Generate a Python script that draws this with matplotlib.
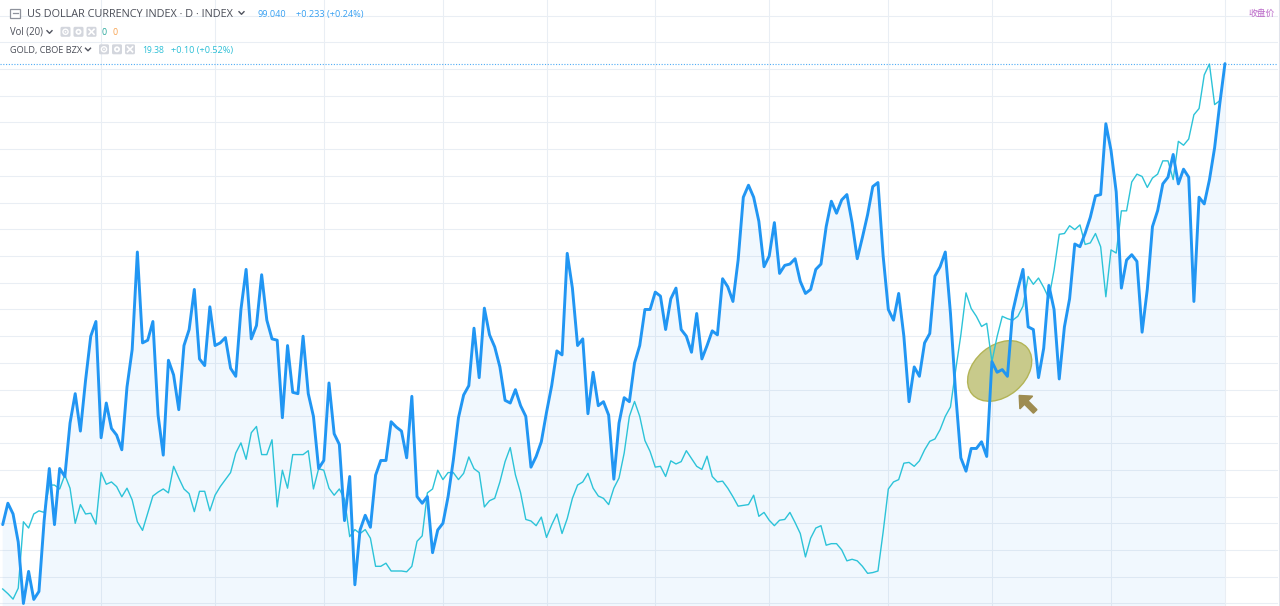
import numpy as np
import matplotlib
matplotlib.use("Agg")
import matplotlib.pyplot as plt
from matplotlib.patches import Ellipse, FancyArrow, Rectangle, FancyBboxPatch, Circle
from matplotlib.lines import Line2D
from matplotlib.transforms import IdentityTransform

W, H, DPI = 1280, 606, 100

# ---------------- data (daily closes) ----------------
dxy = [95.59, 95.75, 95.67, 95.46, 95.00, 95.24, 95.03, 95.09, 95.62, 96.01,
       95.59, 96.01, 95.95, 96.35, 96.57, 96.29, 96.67, 97.00, 97.11, 96.24,
       96.50, 96.31, 96.26, 96.15, 96.62, 96.90, 97.63, 96.95, 96.97, 97.11,
       96.41, 96.11, 96.82, 96.71, 96.45, 96.93, 97.05, 97.35, 96.83, 96.78,
       97.22, 96.93, 96.95, 96.99, 96.76, 96.70, 97.20, 97.50, 96.98, 97.08,
       97.46, 97.12, 96.98, 96.97, 96.39, 96.93, 96.58, 96.57, 97.00, 96.57,
       96.40, 96.01, 96.07, 96.65, 96.27, 96.19, 95.62, 95.95, 95.14, 95.55,
       95.66, 95.57, 95.96, 96.07, 96.07, 96.36, 96.32, 96.29, 96.09, 96.55,
       95.80, 95.75, 95.80, 95.38, 95.55, 95.60, 95.80, 96.07, 96.39, 96.56,
       96.63, 97.06, 96.69, 97.21, 97.01, 96.92, 96.77, 96.52, 96.50, 96.60,
       96.48, 96.40, 96.02, 96.10, 96.21, 96.43, 96.63, 96.89, 96.86, 97.62,
       97.36, 96.93, 96.98, 96.42, 96.73, 96.48, 96.51, 96.41, 95.93, 96.35,
       96.54, 96.51, 96.80, 96.93, 97.20, 97.20, 97.33, 97.30, 97.05, 97.28,
       97.36, 97.05, 97.00, 96.88, 97.17, 96.83, 96.93, 97.04, 97.01, 97.43,
       97.37, 97.26, 97.57, 98.04, 98.13, 98.04, 97.86, 97.52, 97.60, 97.85,
       97.47, 97.53, 97.54, 97.58, 97.41, 97.32, 97.35, 97.50, 97.54, 97.82,
       98.01, 97.92, 98.02, 98.06, 97.85, 97.58, 97.74, 97.91, 98.12, 98.15,
       97.60, 97.20, 97.12, 97.32, 97.00, 96.51, 96.77, 96.70, 96.95, 97.02,
       97.45, 97.52, 97.63, 97.17, 96.57, 96.09, 95.99, 96.16, 96.16, 96.21,
       96.10, 96.81, 96.73, 96.75, 96.70, 97.18, 97.35, 97.50, 97.07, 97.05,
       96.69, 96.91, 97.38, 97.20, 96.68, 97.07, 97.28, 97.69, 97.67, 97.77,
       97.89, 98.05, 98.06, 98.59, 98.39, 98.08, 97.36, 97.57, 97.61, 97.56,
       97.03, 97.35, 97.82, 97.94, 98.14, 98.19, 98.36, 98.14, 98.25, 98.19,
       97.26, 98.04, 97.99, 98.17, 98.41, 98.74, 99.04]

gold = [13.13, 13.07, 13.00, 13.14, 13.99, 13.91, 14.09, 14.13, 14.11, 14.46,
        14.46, 14.41, 14.59, 14.42, 13.97, 14.21, 14.09, 14.10, 13.96, 14.62,
        14.47, 14.50, 14.44, 14.31, 14.42, 14.27, 13.99, 13.88, 14.10, 14.32,
        14.37, 14.41, 14.36, 14.70, 14.55, 14.41, 14.35, 14.12, 14.38, 14.38,
        14.13, 14.33, 14.44, 14.53, 14.62, 14.87, 15.00, 14.79, 15.13, 15.21,
        14.85, 14.85, 15.04, 14.18, 14.65, 14.42, 14.85, 14.85, 14.85, 14.90,
        14.41, 14.67, 14.65, 14.42, 14.33, 14.41, 14.28, 13.80, 13.89, 13.84,
        13.89, 13.78, 13.42, 13.42, 13.46, 13.36, 13.36, 13.36, 13.35, 13.42,
        13.74, 13.81, 14.36, 14.41, 14.65, 14.53, 14.62, 14.62, 14.53, 14.61,
        14.82, 14.67, 14.62, 14.18, 14.26, 14.29, 14.50, 14.76, 14.94, 14.59,
        14.36, 14.02, 14.00, 13.94, 14.05, 13.79, 13.95, 14.09, 13.84, 14.03,
        14.29, 14.46, 14.50, 14.61, 14.42, 14.32, 14.29, 14.21, 14.42, 14.55,
        14.87, 15.34, 15.53, 15.34, 15.03, 14.89, 14.69, 14.70, 14.57, 14.77,
        14.73, 14.76, 14.90, 14.80, 14.70, 14.66, 14.83, 14.57, 14.50, 14.51,
        14.42, 14.31, 14.19, 14.20, 14.21, 14.33, 14.06, 14.11, 14.01, 13.94,
        14.01, 14.02, 14.11, 13.98, 13.84, 13.54, 13.78, 13.91, 13.94, 13.69,
        13.71, 13.71, 13.63, 13.49, 13.51, 13.49, 13.42, 13.33, 13.34, 13.36,
        13.86, 14.41, 14.50, 14.53, 14.74, 14.75, 14.70, 14.77, 14.91, 15.02,
        15.05, 15.17, 15.34, 15.46, 15.93, 16.38, 16.92, 16.72, 16.62, 16.49,
        16.53, 16.04, 16.36, 16.62, 16.59, 16.57, 16.62, 16.75, 17.13, 17.03,
        17.11, 16.99, 16.85, 17.21, 17.67, 17.68, 17.78, 17.73, 17.79, 17.54,
        17.56, 17.68, 17.51, 16.87, 17.47, 17.43, 17.97, 17.97, 18.34, 18.44,
        18.41, 18.27, 18.39, 18.44, 18.61, 18.61, 18.37, 18.86, 18.81, 18.89,
        19.20, 19.28, 19.71, 19.85, 19.33, 19.38]

# first trading day of each month (index into the series)
month_starts = [19, 41, 62, 85, 105, 126, 148, 171, 191, 214, 236]
dxy_grid = [95.0 + 0.2 * k for k in range(23)]
dxy_last = 99.04

title = "US DOLLAR CURRENCY INDEX · D · INDEX"
dxy_last_txt, dxy_chg_txt = "99.040", "+0.233 (+0.24%)"
vol_txt = "Vol (20)"
gold_txt = "GOLD, CBOE BZX"
gold_last_txt, gold_chg_txt = "19.38", "+0.10 (+0.52%)"
corner_txt = "收盘价"

# ---------------- figure ----------------
fig = plt.figure(figsize=(W / DPI, H / DPI), dpi=DPI, facecolor="white")
rect = [0, 0, 1278 / W, 1]
axb = fig.add_axes(rect)                       # grid + area fill (DXY scale)
axg = axb.twinx()                              # GOLD overlay scale
axt = fig.add_axes(rect, sharex=axb, sharey=axb)  # DXY line on top
axb.set_zorder(1); axg.set_zorder(2); axt.set_zorder(3)
for a in (axb, axg, axt):
    a.set_axis_off()

axb.set_xlim(-0.521, 246.24)
axb.set_ylim(94.981, 99.516)
axg.set_ylim(12.912, 20.669)

GRID = "#E9EEF4"
for v in dxy_grid:
    axb.axhline(v, color=GRID, lw=0.75, zorder=0)
for m in month_starts:
    axb.axvline(m, color=GRID, lw=0.75, zorder=0)

x = np.arange(len(dxy))
xg = np.arange(len(gold))
axb.fill_between(x, dxy, 90, color="#2196F3", alpha=0.06, lw=0, zorder=1)

# annotation ellipse (below the lines)
cx, cy = axb.transData.transform((192.5, 96.74))
ell = Ellipse((cx, cy), 72, 51, angle=40, transform=IdentityTransform(),
              facecolor="#C8CA8B", edgecolor="#B3B456", lw=1.0, zorder=5, clip_on=False)
axb.add_artist(ell)

axg.plot(xg, gold, color="#2CC3D8", lw=1.0, solid_joinstyle="round")
axt.plot(x, dxy, color="#2196F3", lw=2.1, solid_joinstyle="round", solid_capstyle="round")
axt.axhline(dxy_last, color="#2196F3", lw=0.8, ls=(0, (1, 1.5)), alpha=0.8)

# arrow near the ellipse
tx, ty = cx + 19.5, cy - 24.5
arr = FancyArrow(tx + 16, ty - 16, -16, 16, width=5, head_width=18, head_length=10,
                 length_includes_head=True, transform=IdentityTransform(),
                 color="#9E8C50", zorder=6)
axt.add_artist(arr)

# right border of the pane
fig.lines.append(Line2D([1278.5, 1278.5], [0, H], transform=IdentityTransform(),
                        color="#E0E3EB", lw=0.75))

# ---------------- header ----------------
renderer = fig.canvas.get_renderer()
FAM = ["Open Sans", "DejaVu Sans"]


def put(s, x0, x1, base_y, color, family=FAM, size=8.0):
    t = fig.text(x0 / W, 1 - base_y / H, s, color=color, fontsize=size,
                 family=family, va="baseline", ha="left", zorder=10)
    if x1 is not None:
        bb = t.get_window_extent(renderer)
        t.set_fontsize(size * (x1 - x0) / bb.width)
    return t


def chevron(xc, yc, color="#50535E"):
    fig.lines.append(Line2D([xc - 2.5, xc, xc + 2.5],
                            [H - (yc - 1.3), H - (yc + 1.3), H - (yc - 1.3)],
                            transform=IdentityTransform(), color=color, lw=1.0, zorder=12))


def icons(x0, yc):
    for k in range(3):
        bx = x0 + k * 13
        p = FancyBboxPatch((bx, H - yc - 5), 10, 10, boxstyle="round,pad=0,rounding_size=1.5",
                           transform=IdentityTransform(), facecolor="#D3D6DD",
                           edgecolor="none", zorder=10)
        fig.patches.append(p)
        cxx, cyy = bx + 5, H - yc
        if k == 0:
            fig.patches.append(Circle((cxx, cyy), 2.6, transform=IdentityTransform(),
                                      facecolor="none", edgecolor="white", lw=1.0, zorder=11))
            fig.patches.append(Circle((cxx, cyy), 0.9, transform=IdentityTransform(),
                                      facecolor="white", edgecolor="none", zorder=11))
        elif k == 1:
            fig.patches.append(Circle((cxx, cyy), 3.0, transform=IdentityTransform(),
                                      facecolor="white", edgecolor="none", zorder=11))
            fig.patches.append(Circle((cxx, cyy), 1.2, transform=IdentityTransform(),
                                      facecolor="#D3D6DD", edgecolor="none", zorder=12))
        else:
            for sgn in (1, -1):
                fig.lines.append(Line2D([cxx - 2.5, cxx + 2.5], [cyy - 2.5 * sgn, cyy + 2.5 * sgn],
                                        transform=IdentityTransform(), color="white",
                                        lw=1.2, zorder=12))


TXT = "#4B4E58"
# collapse box icon
fig.patches.append(Rectangle((10, H - 18), 10, 9.5, transform=IdentityTransform(),
                             facecolor="white", edgecolor="#8E929C", lw=0.9, zorder=10))
fig.lines.append(Line2D([12.5, 17.5], [H - 13.3, H - 13.3], transform=IdentityTransform(),
                        color="#8E929C", lw=0.9, zorder=12))

put(title, 27.3, 235, 16.6, TXT)
chevron(241.5, 13.0)
put(dxy_last_txt, 258, 286.5, 16.6, "#37A0F2")
put(dxy_chg_txt, 295.5, 363, 16.6, "#37A0F2")

put(vol_txt, 10, 43, 34.8, TXT)
chevron(49.5, 32.0)
icons(60.5, 31.8)
put("0", 102, 107, 34.8, "#26A69A")
put("0", 112.5, 117.5, 34.8, "#F7A24F")

put(gold_txt, 10, 82, 52.6, TXT)
chevron(88.0, 49.5)
icons(99.0, 49.3)
put(gold_last_txt, 142, 164, 52.6, "#2BBFD6")
put(gold_chg_txt, 171, 233, 52.6, "#2BBFD6")

put(corner_txt, 1248, 1274.5, 16.2, "#BA68C8", family=["Noto Sans CJK SC", "DejaVu Sans"])

fig.savefig("out.png", dpi=DPI, facecolor="white")
